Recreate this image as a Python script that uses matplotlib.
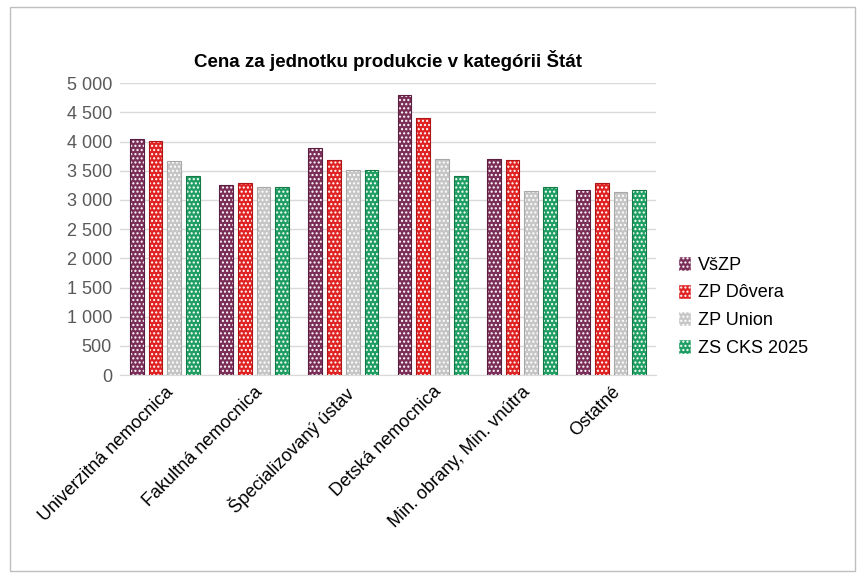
import numpy as np
import matplotlib.pyplot as plt
from matplotlib.patches import Rectangle, Patch

categories = ["Univerzitná nemocnica", "Fakultná nemocnica", "Špecializovaný ústav",
              "Detská nemocnica", "Min. obrany, Min. vnútra", "Ostatné"]
series = ["VšZP", "ZP Dôvera", "ZP Union", "ZS CKS 2025"]
vszp = [4040, 3250, 3890, 4795, 3700, 3165]
dovera = [4010, 3285, 3680, 4400, 3680, 3285]
union = [3660, 3220, 3510, 3700, 3150, 3135]
cks = [3410, 3220, 3510, 3410, 3220, 3165]
values = [vszp, dovera, union, cks]
colors = ["#7A2E58", "#E02222", "#C6C6C6", "#1E9E62"]
edges = ["#5A1E40", "#B01515", "#A8A8A8", "#147A48"]

plt.rcParams['font.family'] = ['Arial', 'Liberation Sans', 'DejaVu Sans']
plt.rcParams['hatch.linewidth'] = 1.0
plt.rcParams['hatch.color'] = 'white'

fig = plt.figure(figsize=(8.65, 5.78), dpi=100)
fig.patches.append(Rectangle((0.012, 0.012), 0.976, 0.976, transform=fig.transFigure,
                             fill=False, edgecolor="#BFBFBF", linewidth=1))
ax = fig.add_axes([0.139, 0.351, 0.619, 0.505])

x = np.arange(len(categories))
w = 0.155
gap = 0.21
for i, (vals, c, e) in enumerate(zip(values, colors, edges)):
    pos = x + (i - 1.5) * gap
    ax.bar(pos, vals, width=w, color=c, hatch='....', edgecolor='white', linewidth=0, zorder=3)
    ax.bar(pos, vals, width=w, fill=False, edgecolor=e, linewidth=0.8, zorder=4)

ax.set_ylim(0, 5000)
ax.set_xlim(-0.5, len(categories) - 0.5)
ax.set_yticks(range(0, 5001, 500))
ax.set_yticklabels([f"{v:,}".replace(",", " ") for v in range(0, 5001, 500)], fontsize=13, color="#595959")
ax.set_xticks(x)
ax.set_xticklabels(categories, rotation=45, ha='right', rotation_mode='anchor', fontsize=13)
ax.tick_params(length=0, pad=6)
ax.yaxis.grid(True, color="#D9D9D9", linewidth=1, zorder=0)
for s in ["top", "right", "left"]:
    ax.spines[s].set_visible(False)
ax.spines["bottom"].set_color("#D9D9D9")
ax.set_title("Cena za jednotku produkcie v kategórii Štát", fontsize=13.5, fontweight='bold', pad=12)

handles = [Patch(facecolor=c, edgecolor='white', hatch='....') for c in colors]
fig.legend(handles, series, loc='upper left', bbox_to_anchor=(0.765, 0.585), frameon=False,
           fontsize=13, handlelength=0.7, handleheight=0.9, labelspacing=0.55, handletextpad=0.4)

fig.savefig("out.png", dpi=100)
